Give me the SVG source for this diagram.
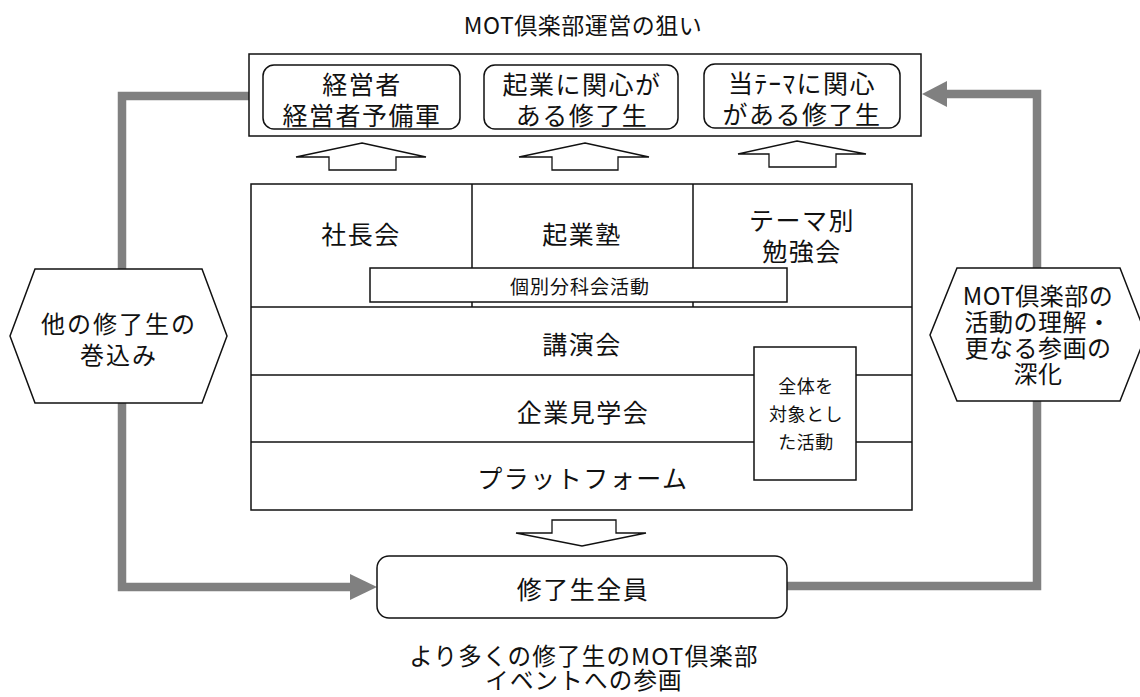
<svg xmlns="http://www.w3.org/2000/svg" width="1140" height="697" viewBox="0 0 1140 697">
<defs>
<style>
.t{font-family:"Noto Sans CJK JP","Noto Sans",sans-serif;fill:#111;text-anchor:middle;dominant-baseline:central}
.big{font-size:25px;letter-spacing:1.5px}
.sm{font-size:19px;letter-spacing:1px}
.box{fill:#fff;stroke:#111;stroke-width:1.5}
.ln{stroke:#111;stroke-width:1.5;fill:none}
.arw{fill:#fff;stroke:#111;stroke-width:1.3;stroke-linejoin:miter}
.gray{fill:none;stroke:#808080;stroke-width:8.5;stroke-linejoin:miter}
.head{fill:#808080}
</style>
</defs>
<rect width="1140" height="697" fill="#fff"/>

<g id="connectors">
<polyline class="gray" points="249,96 122,96 122,587 352,587"/>
<polygon class="head" points="350,574 377,587 350,600"/>
<polyline class="gray" points="787,586 1037,586 1037,94 945,94"/>
<polygon class="head" points="947,81 922,94 947,107"/>
<polygon class="arw" points="362,143 426,157 396,157 396,170 329,170 329,157 296,157"/>
<polygon class="arw" points="585,143 649,157 618,157 618,170 552,170 552,157 519,157"/>
<polygon class="arw" points="797,141 866,154 836,154 836,167 769,167 769,154 738,154"/>
<polygon class="arw" points="552,520 616,520 616,533 646,533 582,546 516,533 552,533"/>
</g>

<g id="title"><text class="t" x="583" y="24" font-size="23" letter-spacing="0.5">MOT倶楽部運営の狙い</text></g>

<g id="goals">
<rect class="box" x="249" y="54" width="672" height="82"/>
</g>
<g id="goal1">
<rect class="box" x="263" y="65" width="197" height="64" rx="11"/>
<text class="t big" x="362" y="83">経営者</text>
<text class="t big" x="362" y="114">経営者予備軍</text>
</g>
<g id="goal2">
<rect class="box" x="484" y="65" width="194" height="64" rx="11"/>
<text class="t big" x="582" y="83">起業に関心が</text>
<text class="t big" x="582" y="114">ある修了生</text>
</g>
<g id="goal3">
<rect class="box" x="704" y="64" width="196" height="64" rx="11"/>
<text class="t big" x="802" y="82" letter-spacing="3">当ﾃｰﾏに関心</text>
<text class="t big" x="802" y="113">がある修了生</text>
</g>

<g id="activities">
<rect class="box" x="251" y="184" width="661" height="326"/>
<line class="ln" x1="472" y1="184" x2="472" y2="307"/>
<line class="ln" x1="693" y1="184" x2="693" y2="307"/>
<line class="ln" x1="251" y1="307" x2="912" y2="307"/>
<line class="ln" x1="251" y1="375" x2="912" y2="375"/>
<line class="ln" x1="251" y1="442" x2="912" y2="442"/>
</g>
<g id="shachokai"><text class="t big" x="361" y="233">社長会</text></g>
<g id="kigyojuku"><text class="t big" x="582" y="233">起業塾</text></g>
<g id="themebetsu">
<text class="t big" x="802" y="219">テーマ別</text>
<text class="t big" x="802" y="250">勉強会</text>
</g>
<g id="bunkakai">
<rect class="box" x="370" y="268" width="417" height="34"/>
<text class="t sm" x="580" y="285">個別分科会活動</text>
</g>
<g id="koenkai"><text class="t big" x="582" y="343">講演会</text></g>
<g id="kengaku"><text class="t big" x="583" y="411">企業見学会</text></g>
<g id="platform"><text class="t big" x="583" y="477">プラットフォーム</text></g>
<g id="zentai">
<rect class="box" x="754" y="347" width="102" height="133"/>
<text class="t" x="806" y="385" font-size="18" letter-spacing="0.5">全体を</text>
<text class="t" x="806" y="413" font-size="18" letter-spacing="0.5">対象とし</text>
<text class="t" x="806" y="441" font-size="18" letter-spacing="0.5">た活動</text>
</g>

<g id="all-graduates">
<rect class="box" x="377" y="556" width="410" height="62" rx="12"/>
<text class="t big" x="583" y="588">修了生全員</text>
</g>

<g id="bottom-caption">
<text class="t" x="584" y="655" font-size="23.5" letter-spacing="1.2">より多くの修了生のMOT倶楽部</text>
<text class="t" x="584" y="679" font-size="23.5" letter-spacing="1.2">イベントへの参画</text>
</g>

<g id="left-hex">
<polygon class="box" points="35,269 202,269 227,336 202,403 35,403 10,336"/>
<text class="t" x="119" y="322" font-size="24" letter-spacing="2">他の修了生の</text>
<text class="t" x="119" y="353" font-size="24" letter-spacing="2">巻込み</text>
</g>

<g id="right-hex">
<polygon class="box" points="957,268 1120,268 1146,335 1120,401 957,401 930,335"/>
<text class="t" x="1038" y="294" font-size="24" letter-spacing="0.5">MOT倶楽部の</text>
<text class="t" x="1038" y="320" font-size="24" letter-spacing="0.5">活動の理解・</text>
<text class="t" x="1038" y="346" font-size="24" letter-spacing="0.5">更なる参画の</text>
<text class="t" x="1038" y="372" font-size="24" letter-spacing="0.5">深化</text>
</g>
</svg>
